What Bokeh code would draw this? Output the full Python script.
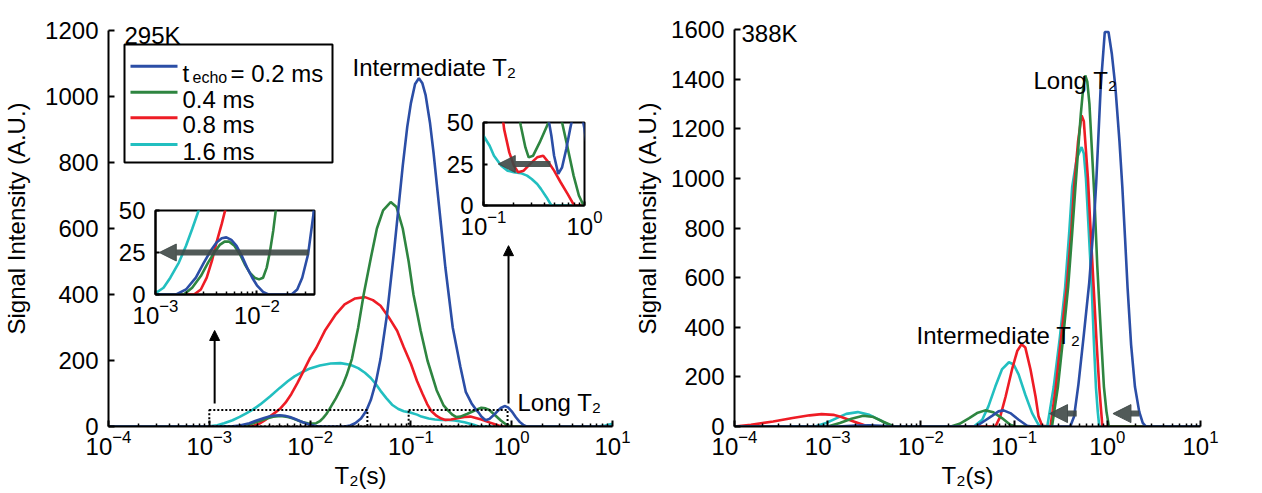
from bokeh.plotting import figure
from bokeh.models import (Range1d, FixedTicker, Label, Arrow, NormalHead, GridBox, BoxAnnotation)
from bokeh.embed import file_html
from bokeh.resources import INLINE

FONT = "Liberation Sans"

# ---------------- data (T2 in s, signal in A.U.) ----------------
SERIES = ["0.2 ms", "0.4 ms", "0.8 ms", "1.6 ms"]
COLORS = ["#2b4ea6", "#2e8540", "#ee1c25", "#22bfc0"]

BLUE_295 = [(1e-4, 0), (1.6e-3, 0), (2.0e-3, 3), (2.5e-3, 10), (3.0e-3, 19), (3.5e-3, 26), (4.0e-3, 31),
            (4.5e-3, 33.5), (5.0e-3, 34), (5.6e-3, 32.5), (6.3e-3, 29), (7.1e-3, 23), (8.0e-3, 16), (9.0e-3, 10),
            (1.0e-2, 5.5), (1.15e-2, 1.5), (1.3e-2, 0), (2.2e-2, 0), (2.5e-2, 3), (2.8e-2, 10), (3.2e-2, 24),
            (3.6e-2, 47), (4.0e-2, 80), (4.5e-2, 135), (5.0e-2, 205), (5.8e-2, 340), (6.8e-2, 530), (7.5e-2, 658),
            (8.3e-2, 790), (9.2e-2, 908), (0.10, 980), (0.11, 1038), (0.12, 1055), (0.13, 1040), (0.14, 1004),
            (0.155, 918), (0.168, 828), (0.19, 670), (0.22, 481), (0.26, 300), (0.31, 180), (0.35, 105),
            (0.40, 70), (0.44, 52), (0.47, 42), (0.50, 30), (0.55, 19), (0.60, 23), (0.66, 34), (0.72, 46),
            (0.78, 56), (0.85, 62), (0.92, 58), (1.0, 46), (1.1, 28), (1.2, 14), (1.3, 5), (1.4, 0), (10, 0)]
GREEN_295 = [(1e-4, 0), (1.9e-3, 0), (2.3e-3, 4), (2.8e-3, 11), (3.3e-3, 19), (3.8e-3, 25), (4.3e-3, 29.5),
             (4.8e-3, 31.5), (5.3e-3, 31.5), (6.0e-3, 29), (6.8e-3, 24), (7.6e-3, 18), (8.5e-3, 13), (9.5e-3, 10),
             (1.05e-2, 9), (1.15e-2, 10), (1.25e-2, 16), (1.35e-2, 26), (1.45e-2, 38), (1.55e-2, 52), (1.8e-2, 85),
             (2.1e-2, 125), (2.3e-2, 155), (2.6e-2, 205), (3.0e-2, 300), (3.4e-2, 400), (4.0e-2, 510),
             (4.6e-2, 600), (5.3e-2, 655), (6.3e-2, 680), (7.2e-2, 665), (8.3e-2, 600), (9.5e-2, 500),
             (0.106, 400), (0.125, 290), (0.146, 200), (0.18, 110), (0.21, 65), (0.234, 48), (0.26, 35),
             (0.28, 29), (0.31, 30), (0.36, 38), (0.44, 50), (0.50, 57), (0.55, 55), (0.60, 50), (0.68, 35),
             (0.78, 18), (0.88, 6), (0.98, 0), (10, 0)]
RED_295 = [(1e-4, 0), (2.4e-3, 0), (2.8e-3, 3), (3.2e-3, 10), (3.6e-3, 20), (4.0e-3, 31), (4.5e-3, 42),
           (5.0e-3, 53), (5.7e-3, 72), (6.5e-3, 98), (7.5e-3, 132), (8.5e-3, 165), (1.0e-2, 208), (1.15e-2, 238),
           (1.4e-2, 290), (1.8e-2, 340), (2.2e-2, 370), (2.8e-2, 388), (3.5e-2, 392), (4.2e-2, 383),
           (5.0e-2, 366), (6.0e-2, 332), (7.3e-2, 290), (8.5e-2, 240), (0.10, 190), (0.115, 138), (0.13, 100),
           (0.145, 68), (0.16, 46), (0.18, 32), (0.20, 24), (0.22, 20), (0.25, 21), (0.30, 26), (0.34, 29),
           (0.39, 30), (0.44, 26), (0.50, 21), (0.58, 14), (0.68, 7), (0.79, 0), (10, 0)]
CYAN_295 = [(1e-4, 0), (8e-4, 0), (9e-4, 0.3), (1.0e-3, 0.8), (1.2e-3, 4), (1.4e-3, 10), (1.7e-3, 19),
            (2.0e-3, 29), (2.3e-3, 39), (2.7e-3, 51), (3.2e-3, 67), (4.0e-3, 91), (5.0e-3, 117), (6.0e-3, 137),
            (7.0e-3, 152), (8.5e-3, 166), (1.0e-2, 176), (1.25e-2, 185), (1.6e-2, 191), (2.0e-2, 192),
            (2.5e-2, 187), (3.0e-2, 177), (3.5e-2, 163), (4.0e-2, 147), (4.5e-2, 128), (5.0e-2, 108),
            (5.7e-2, 86), (6.5e-2, 66), (7.5e-2, 53), (8.5e-2, 46), (0.10, 42), (0.115, 36), (0.127, 30),
            (0.15, 24), (0.173, 21), (0.20, 20), (0.234, 19.5), (0.27, 18), (0.30, 16), (0.34, 13), (0.37, 10),
            (0.42, 5), (0.47, 0), (7.0, 0), (8.5, 3), (10, 8)]

BLUE_388 = [(1e-4, 0), (1.3e-3, 0), (2.0e-3, 4), (2.8e-3, 5), (3.7e-3, 3), (4.5e-3, 0), (0.039, 0), (0.047, 20),
            (0.058, 43), (0.068, 61), (0.077, 65), (0.091, 54), (0.112, 27), (0.138, 3), (0.155, 0), (0.40, 0),
            (0.44, 40), (0.49, 170), (0.56, 370), (0.64, 580), (0.72, 830), (0.76, 980), (0.85, 1370),
            (0.94, 1590), (1.03, 1590), (1.12, 1500), (1.22, 1370), (1.35, 1150), (1.45, 965), (1.55, 760),
            (1.65, 560), (1.8, 330), (1.98, 160), (2.2, 60), (2.4, 15), (2.6, 0), (10, 0)]
GREEN_388 = [(1e-4, 0), (1.0e-3, 0), (1.35e-3, 14), (1.8e-3, 31), (2.4e-3, 43), (3.1e-3, 38), (3.9e-3, 20),
             (4.8e-3, 5), (5.2e-3, 0), (0.021, 0), (0.026, 11), (0.033, 34), (0.040, 54), (0.049, 65),
             (0.060, 57), (0.074, 34), (0.091, 7), (0.103, 0), (0.255, 0), (0.295, 159), (0.33, 330),
             (0.38, 562), (0.42, 780), (0.455, 965), (0.49, 1130), (0.52, 1260), (0.55, 1360), (0.58, 1415),
             (0.61, 1390), (0.643, 1300), (0.68, 1130), (0.726, 930), (0.78, 650), (0.82, 495), (0.87, 320),
             (0.92, 160), (0.98, 60), (1.04, 0), (10, 0)]
RED_388 = [(1e-4, 0), (1.5e-4, 7), (2.6e-4, 20), (4.2e-4, 34), (6.4e-4, 45), (8.6e-4, 50), (1.15e-3, 47),
           (1.4e-3, 38), (1.8e-3, 23), (2.4e-3, 7), (2.7e-3, 0), (0.063, 0), (0.071, 40), (0.081, 120),
           (0.095, 230), (0.108, 304), (0.12, 331), (0.132, 318), (0.15, 230), (0.17, 120), (0.183, 40),
           (0.20, 3), (0.246, 0), (0.28, 159), (0.32, 360), (0.367, 562), (0.41, 780), (0.44, 965),
           (0.486, 1150), (0.53, 1254), (0.56, 1230), (0.62, 1000), (0.66, 800), (0.714, 562), (0.77, 330),
           (0.82, 159), (0.86, 60), (0.886, 0), (10, 0)]
CYAN_388 = [(1e-4, 0), (7.3e-4, 0), (9.6e-4, 14), (1.25e-3, 34), (1.58e-3, 51), (2.1e-3, 58), (2.8e-3, 47),
            (3.6e-3, 27), (4.4e-3, 9), (5.0e-3, 0), (0.037, 0), (0.0455, 27), (0.053, 81), (0.063, 162),
            (0.074, 230), (0.088, 259), (0.099, 250), (0.112, 209), (0.132, 128), (0.156, 54), (0.183, 7),
            (0.20, 0), (0.227, 0), (0.266, 159), (0.31, 360), (0.353, 562), (0.39, 780), (0.42, 965),
            (0.47, 1080), (0.53, 1126), (0.56, 1100), (0.59, 1000), (0.63, 800), (0.68, 562), (0.72, 330),
            (0.755, 159), (0.79, 60), (0.82, 0), (10, 0)]

DATA_295 = [BLUE_295, GREEN_295, RED_295, CYAN_295]
DATA_388 = [BLUE_388, GREEN_388, RED_388, CYAN_388]

X_TICKS = [1e-4, 1e-3, 1e-2, 1e-1, 1e0, 1e1]
Y_TICKS_295 = [0, 200, 400, 600, 800, 1000, 1200]
Y_TICKS_388 = [0, 200, 400, 600, 800, 1000, 1200, 1400, 1600]
INSET_Y_TICKS = [0, 25, 50]

# zoom windows (T2 range, signal range)
INSET_A = (1e-3, 0.037, 0, 50)
INSET_B = (0.1, 1.0, 0, 50)
BOX_A = (1e-3, 0.037, 0, 50)
BOX_B = (0.095, 0.91, 0, 50)

# annotation arrows (data coordinates)
UP_ARROWS_295 = [(1.13e-3, 70, 291), (0.93, 70, 548)]     # x, y_start, y_end
SHIFT_A = (0.0324, 1.09e-3, 25)                           # x_start, x_end, y
SHIFT_B = (0.46, 0.14, 25)
SHIFT_388 = [(0.47, 0.24, 52), (2.2, 1.15, 52)]

# ---------------- layout constants (page pixels) ----------------
FB = 426            # frame bottom
FT = 10             # frame top (room for the temperature labels)
AX_TOP_L, AX_TOP_R = 30, 29   # where the top tick sits
FL_L, FL_R = 108, 730
GRAY = "#3e4846"


def minor_list(lo_exp, hi_exp):
    return [k * 10.0 ** e for e in range(lo_exp, hi_exp) for k in range(2, 10)]


def style_axes(p, yticks, xmajor, xminor, ystandoff=10, xstandoff=3, tick_in=6):
    p.xgrid.visible = False
    p.ygrid.visible = False
    for ax in (p.xaxis[0], p.yaxis[0]):
        ax.axis_line_width = 2
        ax.axis_line_color = "black"
        ax.major_tick_line_width = 2
        ax.major_tick_line_color = "black"
        ax.major_tick_in = tick_in
        ax.major_tick_out = 0
        ax.major_label_text_font = FONT
        ax.major_label_text_font_size = "24px"
        ax.major_label_text_color = "black"
        ax.axis_label_text_font = FONT
        ax.axis_label_text_font_size = "24px"
        ax.axis_label_text_font_style = "normal"
        ax.axis_label_text_color = "black"
    xa, ya = p.xaxis[0], p.yaxis[0]
    xa.ticker = FixedTicker(ticks=xmajor, minor_ticks=xminor)
    xa.minor_tick_in = 3
    xa.minor_tick_out = 0
    xa.minor_tick_line_width = 1.5
    xa.minor_tick_line_color = "black"
    xa.major_label_standoff = xstandoff
    ya.ticker = FixedTicker(ticks=yticks)
    ya.minor_tick_line_color = None
    ya.major_label_standoff = ystandoff


def draw_series(p, data):
    for i in [3, 2, 1, 0]:
        xs = [pt[0] for pt in data[i]]
        ys = [pt[1] for pt in data[i]]
        p.line(xs, ys, line_color=COLORS[i], line_width=2.6)


def page_label(p, frame_left, px, py, text, size="24px"):
    p.add_layout(Label(x=px - frame_left, y=FB - py, x_units="screen", y_units="screen", text=text,
                       text_font=FONT, text_font_size=size, text_color="black",
                       text_baseline="alphabetic", text_align="left"))


def gray_arrow(p, x0, x1, y, width, head):
    p.add_layout(Arrow(x_start=x0, y_start=y, x_end=x1, y_end=y, line_color=GRAY, line_width=width,
                       line_alpha=0.9,
                       end=NormalHead(size=head, fill_color=GRAY, line_color=GRAY, fill_alpha=0.9,
                                      line_alpha=0.9)))


def main_panel(ymax, ax_top, border_left, border_right):
    y_end = ymax * (FB - FT) / (FB - ax_top)
    p = figure(width=631, height=493, x_axis_type="log", x_range=Range1d(1e-4, 10),
               y_range=Range1d(0, y_end), output_backend="svg", toolbar_location=None,
               min_border_left=border_left, min_border_right=border_right, min_border_top=FT,
               min_border_bottom=493 - FB, outline_line_color=None)
    p.yaxis[0].bounds = (0, ymax)
    p.xaxis[0].axis_label = "T\u2082(s)"
    p.yaxis[0].axis_label = "Signal Intensity (A.U.)"
    return p


# ---------------- left panel (295K) ----------------
left = main_panel(Y_TICKS_295[-1], AX_TOP_L, FL_L, 631 - 612)
style_axes(left, Y_TICKS_295, X_TICKS, minor_list(-4, 1))
left.xaxis[0].axis_label_standoff = 4
left.yaxis[0].axis_label_standoff = 12
draw_series(left, DATA_295)

for (x0, x1, y0, y1) in (BOX_A, BOX_B):
    left.quad(left=[x0], right=[x1], bottom=[y0], top=[y1], fill_color=None, line_color="black",
              line_width=2, line_dash="2 2")
for (x, y0, y1) in UP_ARROWS_295:
    left.add_layout(Arrow(x_start=x, y_start=y0, x_end=x, y_end=y1, line_color="black", line_width=2,
                          end=NormalHead(size=10, fill_color="black", line_color="black")))

page_label(left, FL_L, 124, 35, "295K")
page_label(left, FL_L, 352, 67, "Intermediate T\u2082")
page_label(left, FL_L, 517, 402, "Long T\u2082")

# legend
LEG_BOX = (124, 332, 44, 162)
LEG_ROWS = [65.7, 91.7, 117.3, 144.0]
LEG_LINE_X = (130, 177)
LEG_TEXT_X = 182
left.add_layout(BoxAnnotation(left=LEG_BOX[0] - FL_L, right=LEG_BOX[1] - FL_L, top=FB - LEG_BOX[2],
                              bottom=FB - LEG_BOX[3], left_units="screen", right_units="screen",
                              top_units="screen", bottom_units="screen", fill_color=None,
                              line_color="black", line_alpha=1, line_width=2, level="overlay"))
for i, ry in enumerate(LEG_ROWS):
    left.add_layout(Arrow(x_start=LEG_LINE_X[0] - FL_L, y_start=FB - ry, x_end=LEG_LINE_X[1] - FL_L,
                          y_end=FB - ry, start_units="screen", end_units="screen", end=None,
                          line_color=COLORS[i], line_width=3))
    if i == 0:
        page_label(left, FL_L, LEG_TEXT_X, ry + 6.8, "t")
        page_label(left, FL_L, LEG_TEXT_X + 10, ry + 11.5, "echo", size="16px")
        page_label(left, FL_L, LEG_TEXT_X + 48, ry + 6.8, "= " + SERIES[0])
    else:
        page_label(left, FL_L, LEG_TEXT_X, ry + 6.8, SERIES[i])

# ---------------- right panel (388K) ----------------
right = main_panel(Y_TICKS_388[-1], AX_TOP_R, FL_R - 631, 631 - (1200 - 631))
style_axes(right, Y_TICKS_388, X_TICKS, minor_list(-4, 1))
right.xaxis[0].axis_label_standoff = 4
right.yaxis[0].axis_label_standoff = 7
draw_series(right, DATA_388)
for (x0, x1, y) in SHIFT_388:
    gray_arrow(right, x0, x1, y, 6, 18)
page_label(right, FL_R, 737, 33, "388K")
page_label(right, FL_R, 1029, 80, "Long T\u2082")
page_label(right, FL_R, 912, 335, "Intermediate T\u2082")


# ---------------- insets ----------------
def make_inset(rng, w, h, bl, br, bt, bb, xmajor, xminor, arrow):
    p = figure(width=w, height=h, x_axis_type="log", x_range=Range1d(rng[0], rng[1]),
               y_range=Range1d(rng[2], rng[3]), output_backend="svg", toolbar_location=None,
               min_border_left=bl, min_border_right=br, min_border_top=bt, min_border_bottom=bb)
    p.border_fill_alpha = 0
    p.background_fill_color = "white"
    p.outline_line_color = "black"
    p.outline_line_width = 2
    p.outline_line_alpha = 1
    style_axes(p, INSET_Y_TICKS, xmajor, xminor, ystandoff=10, xstandoff=4, tick_in=4)
    draw_series(p, DATA_295)
    gray_arrow(p, arrow[0], arrow[1], arrow[2], 6, 17)
    return p


insA = make_inset(INSET_A, 205, 140, 38, 6, 20, 36, [1e-3, 1e-2], minor_list(-3, -2) + [2e-2, 3e-2], SHIFT_A)
insB = make_inset(INSET_B, 170, 135, 43, 26, 17, 35, [1e-1, 1e0], minor_list(-1, 0), SHIFT_B)

grid = GridBox(children=[(left, 0, 0, 5, 5), (right, 0, 5, 5, 1), (insA, 2, 1, 2, 1), (insB, 1, 3, 2, 1)],
               rows=["105px", "85px", "50px", "90px", "163px"],
               cols=["115px", "205px", "120px", "170px", "21px", "631px"], spacing=0)

open("out.html", "w").write(file_html(grid, INLINE))
